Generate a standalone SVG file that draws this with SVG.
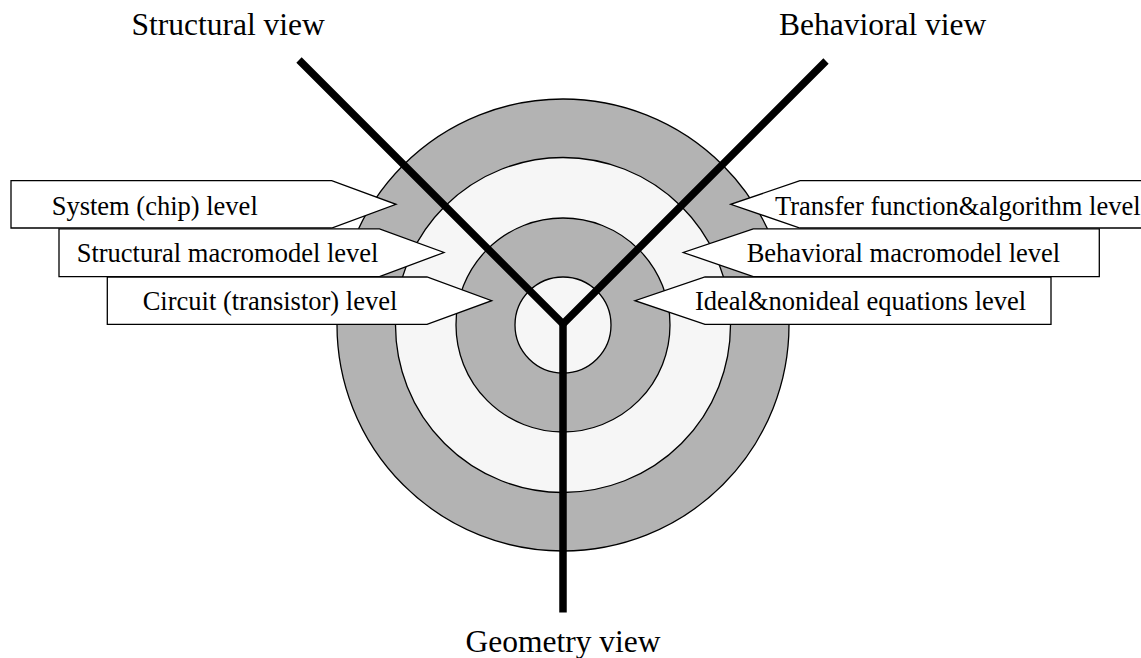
<svg xmlns="http://www.w3.org/2000/svg" width="1141" height="658" viewBox="0 0 1141 658">
  <style>
    .ring-dark { fill: #b3b3b3; stroke: #000; stroke-width: 1.3; }
    .ring-light { fill: #f6f6f6; stroke: #000; stroke-width: 1.3; }
    .tag { fill: #fff; stroke: #000; stroke-width: 1.3; stroke-linejoin: miter; }
    .axis { fill: none; stroke: #000; stroke-width: 7.5; stroke-linejoin: miter; stroke-linecap: butt; }
    .label { font-family: "Liberation Serif", "Times New Roman", serif; font-size: 26.5px; fill: #000; }
    .title { font-family: "Liberation Serif", "Times New Roman", serif; font-size: 31.5px; fill: #000; }
  </style>

  <!-- concentric abstraction levels -->
  <g id="rings">
    <circle class="ring-dark" cx="563" cy="325" r="226"/>
    <circle class="ring-light" cx="563" cy="325" r="167.5"/>
    <circle class="ring-dark" cx="563" cy="325" r="107"/>
    <circle class="ring-light" cx="563" cy="325" r="48"/>
  </g>

  <!-- the three view axes -->
  <g id="connectors">
    <polyline class="axis" points="299,60 563,324 826,61"/>
    <line class="axis" x1="563" y1="324" x2="563" y2="612.5"/>
  </g>

  <!-- view titles -->
  <g id="view-structural">
    <text class="title" x="131.5" y="35">Structural view</text>
  </g>
  <g id="view-behavioral">
    <text class="title" x="779" y="35">Behavioral view</text>
  </g>
  <g id="view-geometry">
    <text class="title" x="563" y="652" text-anchor="middle">Geometry view</text>
  </g>

  <!-- structural side level tags -->
  <g id="level-system">
    <polygon class="tag" points="11,180.7 331.7,180.7 396,204.3 331.7,228 11,228"/>
    <text class="label" x="51.7" y="214.5">System (chip) level</text>
  </g>
  <g id="level-structural-macromodel">
    <polygon class="tag" points="59,228.8 379.5,228.8 444,252.5 379.5,276.7 59,276.7"/>
    <text class="label" x="76.7" y="262">Structural macromodel level</text>
  </g>
  <g id="level-circuit">
    <polygon class="tag" points="107.3,277 427,277 491.7,300.7 427,324.3 107.3,324.3"/>
    <text class="label" x="142.7" y="310">Circuit (transistor) level</text>
  </g>

  <!-- behavioral side level tags -->
  <g id="level-transfer-function">
    <polygon class="tag" points="1150,180.7 800,180.7 730.7,204.3 800,228 1150,228"/>
    <text class="label" x="775" y="214.5">Transfer function&amp;algorithm level</text>
  </g>
  <g id="level-behavioral-macromodel">
    <polygon class="tag" points="1099.3,228.8 753.3,228.8 683.3,252.5 753.3,276.7 1099.3,276.7"/>
    <text class="label" x="746.7" y="262">Behavioral macromodel level</text>
  </g>
  <g id="level-equations">
    <polygon class="tag" points="1051,277 705,277 635,300.7 705,324.3 1051,324.3"/>
    <text class="label" x="695" y="310">Ideal&amp;nonideal equations level</text>
  </g>
</svg>
